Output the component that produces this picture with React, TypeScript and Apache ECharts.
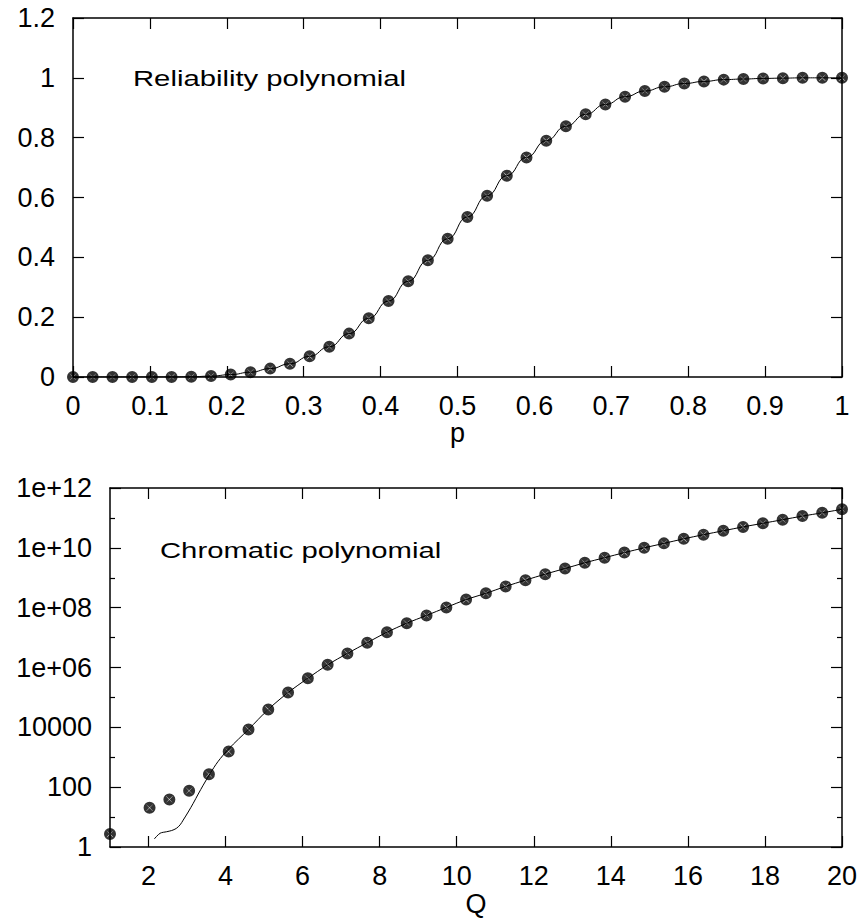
import React, { useEffect, useRef } from "react";
import * as echarts from "echarts";

// Reliability polynomial samples (p, R(p))
const pValues = [
  0, 0.0256, 0.0513, 0.0769, 0.1026, 0.1282, 0.1538, 0.1795, 0.2051, 0.2308,
  0.2564, 0.2821, 0.3077, 0.3333, 0.359, 0.3846, 0.4103, 0.4359, 0.4615, 0.4872,
  0.5128, 0.5385, 0.5641, 0.5897, 0.6154, 0.641, 0.6667, 0.6923, 0.7179, 0.7436,
  0.7692, 0.7949, 0.8205, 0.8462, 0.8718, 0.8974, 0.9231, 0.9487, 0.9744, 1,
];
const reliabilityValues = [
  0, 0, 0, 0, 0, 0.0002, 0.0008, 0.003, 0.008, 0.016,
  0.028, 0.044, 0.069, 0.101, 0.145, 0.196, 0.254, 0.32, 0.39, 0.462,
  0.535, 0.606, 0.673, 0.734, 0.79, 0.838, 0.878, 0.911, 0.937, 0.956,
  0.97, 0.981, 0.988, 0.994, 0.996, 0.998, 0.999, 1.0, 1.0, 1.0,
];

// Chromatic polynomial samples (Q, P(Q))
const qValues = [
  1, 2.027, 2.541, 3.054, 3.568, 4.081, 4.595, 5.108, 5.622, 6.135,
  6.649, 7.162, 7.676, 8.189, 8.703, 9.216, 9.73, 10.243, 10.757, 11.27,
  11.784, 12.297, 12.811, 13.324, 13.838, 14.351, 14.865, 15.378, 15.892, 16.405,
  16.919, 17.432, 17.946, 18.459, 18.973, 19.486, 20,
];
const chromaticValues = [
  2.7, 20.4, 38.9, 75.9, 269, 1549, 8511, 3.98e4, 1.45e5, 4.37e5,
  1.23e6, 2.95e6, 6.76e6, 1.51e7, 3.02e7, 5.5e7, 1.02e8, 1.86e8, 3.02e8, 5.13e8,
  8.32e8, 1.32e9, 2.04e9, 3.16e9, 4.68e9, 6.92e9, 1.0e10, 1.41e10, 2.0e10, 2.75e10,
  3.72e10, 5.01e10, 6.61e10, 8.71e10, 1.15e11, 1.48e11, 1.95e11,
];
// Start of the continuous chromatic curve (before it joins the sample points at Q≈4.6)
const curveStartQ = [2.15, 2.3, 2.47, 2.6, 2.72, 2.82, 2.9, 3.03, 3.16, 3.29, 3.42, 3.6, 3.8, 4.08];
const curveStartValues = [1.86, 2.88, 3.24, 3.55, 4.17, 5.5, 7.94, 14.8, 28.8, 58.9, 117, 288, 708, 1905];
const curveJoinIndex = 6;

// Tick labels
const chromaticTickExponents = [0, 2, 4, 6, 8, 10, 12];
const chromaticTickLabels = ["1", "100", "10000", "1e+06", "1e+08", "1e+10", "1e+12"];
const qTickValues = [2, 4, 6, 8, 10, 12, 14, 16, 18, 20];

const FONT = "'Liberation Sans', Arial, Helvetica, sans-serif";
const FS = 27;

const MARKER =
  "path://M0 10A10 10 0 1 1 20 10A10 10 0 1 1 0 10Z" +
  "M2.4 10A7.6 7.6 0 1 0 17.6 10A7.6 7.6 0 1 0 2.4 10Z" +
  "M10 9.5L3.32 3.21A9.5 9.5 0 0 1 16.68 3.21Z" +
  "M10.5 10L16.79 3.32A9.5 9.5 0 0 1 16.79 16.68Z" +
  "M10 10.5L16.68 16.79A9.5 9.5 0 0 1 3.32 16.79Z" +
  "M9.5 10L3.21 16.68A9.5 9.5 0 0 1 3.21 3.32Z";

const lineAxis = { show: true, onZero: false, lineStyle: { color: "#000", width: 1.5 } };
const tick = { show: true, inside: true, length: 11, lineStyle: { color: "#000", width: 1.2 } };
const labelStyle = { color: "#000", fontSize: FS, fontFamily: FONT };

export default function App() {
  const ref = useRef<HTMLDivElement>(null);

  useEffect(() => {
    if (!ref.current) return;
    const chart = echarts.init(ref.current, undefined, { renderer: "svg" });

    const reliabilityData = pValues.map((p, i) => [p, reliabilityValues[i]]);
    const chromaticData = qValues.map((q, i) => [q, chromaticValues[i]]);
    const curveData = curveStartQ
      .map((q, i) => [q, curveStartValues[i]])
      .concat(qValues.slice(curveJoinIndex).map((q, i) => [q, chromaticValues[i + curveJoinIndex]]));

    const expLabel = (v: number) => {
      const idx = chromaticTickExponents.indexOf(Math.round(v));
      return idx >= 0 ? chromaticTickLabels[idx] : "";
    };

    chart.setOption({
      animation: false,
      backgroundColor: "#fff",
      grid: [
        { left: 73, top: 18, width: 769, height: 359, containLabel: false },
        { left: 110, top: 488, width: 732, height: 359, containLabel: false },
      ],
      xAxis: [
        {
          gridIndex: 0, type: "value", position: "bottom", min: 0, max: 1, interval: 0.1,
          axisLine: lineAxis, axisTick: tick, splitLine: { show: false },
          axisLabel: { ...labelStyle, margin: 15 },
          name: "p", nameLocation: "middle", nameGap: 42,
          nameTextStyle: { ...labelStyle },
        },
        {
          gridIndex: 0, type: "value", position: "top", min: 0, max: 1, interval: 0.1,
          axisLine: lineAxis, axisTick: tick, splitLine: { show: false },
          axisLabel: { show: false },
        },
        {
          gridIndex: 1, type: "value", position: "bottom", min: 1, max: 20,
          axisLine: lineAxis,
          axisTick: { ...tick, customValues: qTickValues },
          splitLine: { show: false },
          axisLabel: { ...labelStyle, margin: 15, customValues: qTickValues },
          name: "Q", nameLocation: "middle", nameGap: 43,
          nameTextStyle: { ...labelStyle },
        },
        {
          gridIndex: 1, type: "value", position: "top", min: 1, max: 20,
          axisLine: lineAxis,
          axisTick: { ...tick, customValues: qTickValues },
          splitLine: { show: false },
          axisLabel: { show: false, customValues: qTickValues },
        },
      ],
      yAxis: [
        {
          gridIndex: 0, type: "value", position: "left", min: 0, max: 1.2, interval: 0.2,
          axisLine: lineAxis, axisTick: tick, splitLine: { show: false },
          axisLabel: { ...labelStyle, margin: 18 },
        },
        {
          gridIndex: 0, type: "value", position: "right", min: 0, max: 1.2, interval: 0.2,
          axisLine: lineAxis, axisTick: tick, splitLine: { show: false },
          axisLabel: { show: false },
        },
        {
          gridIndex: 1, type: "log", logBase: 10, position: "left", min: 1, max: 1e12,
          axisLine: { show: false }, axisTick: { show: false }, splitLine: { show: false },
          minorTick: { show: false }, minorSplitLine: { show: false },
          axisLabel: { show: false },
        },
        {
          gridIndex: 1, type: "value", position: "left", min: 0, max: 12, interval: 2,
          axisLine: lineAxis, axisTick: tick, splitLine: { show: false },
          minorTick: { show: true, splitNumber: 2, length: 5, lineStyle: { color: "#000", width: 1.2 } },
          axisLabel: { ...labelStyle, margin: 18, formatter: expLabel },
        },
        {
          gridIndex: 1, type: "value", position: "right", min: 0, max: 12, interval: 2,
          axisLine: lineAxis, axisTick: tick, splitLine: { show: false },
          minorTick: { show: true, splitNumber: 2, length: 5, lineStyle: { color: "#000", width: 1.2 } },
          axisLabel: { show: false },
        },
      ],
      graphic: [
        {
          type: "text", x: 133, y: 78, scaleX: 1.33,
          style: {
            text: "Reliability polynomial", fill: "#000", fontSize: 22, fontFamily: FONT,
            verticalAlign: "middle", align: "left",
          },
        },
        {
          type: "text", x: 160, y: 550, scaleX: 1.33,
          style: {
            text: "Chromatic polynomial", fill: "#000", fontSize: 22, fontFamily: FONT,
            verticalAlign: "middle", align: "left",
          },
        },
      ],
      series: [
        {
          type: "line", xAxisIndex: 0, yAxisIndex: 0, data: reliabilityData,
          showSymbol: false, smooth: true, smoothMonotone: "x",
          lineStyle: { color: "#000", width: 1 }, z: 2,
        },
        {
          type: "scatter", xAxisIndex: 0, yAxisIndex: 0, data: reliabilityData,
          symbol: MARKER, symbolSize: 12, itemStyle: { color: "#000" }, z: 3,
        },
        {
          type: "line", xAxisIndex: 2, yAxisIndex: 2, data: curveData,
          showSymbol: false, smooth: 0.3,
          lineStyle: { color: "#000", width: 1 }, z: 2,
        },
        {
          type: "scatter", xAxisIndex: 2, yAxisIndex: 2, data: chromaticData,
          symbol: MARKER, symbolSize: 12, itemStyle: { color: "#000" }, z: 3,
        },
      ],
    });

    return () => chart.dispose();
  }, []);

  return (
    <div
      ref={ref}
      style={{ position: "absolute", left: 0, top: 0, width: 865, height: 919 }}
    />
  );
}
